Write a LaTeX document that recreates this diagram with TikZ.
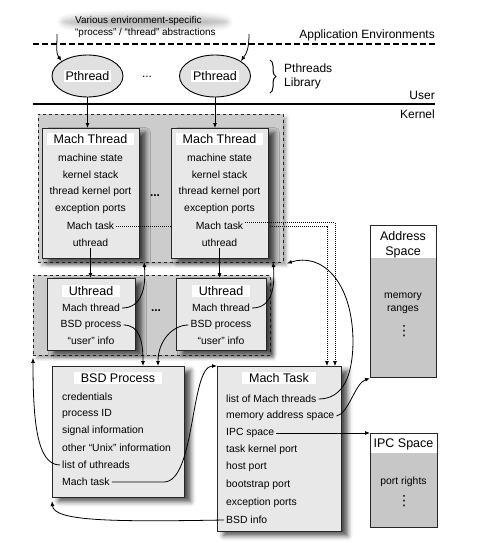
\documentclass[tikz,border=0pt]{standalone}
\usepackage{fontspec}
\setmainfont{Liberation Sans}
\newfontfamily\symfont{DejaVu Sans}
\usetikzlibrary{arrows.meta,shapes.geometric,decorations.pathreplacing,shadows.blur,calc}
\definecolor{boxfill}{gray}{0.91}
\definecolor{regfill}{gray}{0.80}
\definecolor{ellfill}{gray}{0.88}
\definecolor{spacefill}{gray}{0.78}
\newcommand\hdrfont{\fontsize{12.5}{14}\selectfont}
\newcommand\bodyfont{\fontsize{10.4}{12}\selectfont}
\newcommand\lblfont{\fontsize{12}{14}\selectfont}
\newcommand\toptextfont{\fontsize{9.9}{12}\selectfont}
\begin{document}
\begin{tikzpicture}[x=1pt,y=-1pt,
  box/.style={draw=black!85, line width=1.1pt, fill=boxfill, anchor=north west, inner sep=0pt,
    blur shadow={shadow xshift=6pt, shadow yshift=-4pt, shadow blur radius=5pt, shadow opacity=70}},
  spacebox/.style={draw=black!85, line width=1.2pt, fill=spacefill, anchor=north west, inner sep=0pt},
  region/.style={draw=black!85, dashed, line width=0.9pt, fill=regfill, anchor=north west, inner sep=0pt,
    blur shadow={shadow xshift=3pt, shadow yshift=-3pt, shadow blur radius=3pt, shadow opacity=35}},
  hdr/.style={fill=white, inner xsep=7pt, inner ysep=1.5pt, font=\hdrfont},
  txt/.style={inner xsep=2pt, inner ysep=1pt, font=\bodyfont},
  lbl/.style={inner sep=0pt, font=\lblfont},
  conn/.style={line width=0.8pt, -{Latex[length=5pt,width=4pt]}},
  dotconn/.style={line width=0.7pt, dash pattern=on 0.9pt off 1.1pt, -{Latex[length=5pt,width=4pt]}},
  dotsbold/.style={font=\bfseries\lblfont, inner sep=0pt},
  vdot/.style={font=\symfont\fontsize{14}{14}\selectfont, inner sep=0pt}
]
\useasboundingbox (0,0) rectangle (477,543);

% ---------- top ----------
\node[ellipse, minimum width=165pt, minimum height=14pt,
  blur shadow={shadow xshift=0pt, shadow yshift=0pt, shadow blur radius=6pt, shadow opacity=28}] (cloud) at (145,22) {};
\node[anchor=west, align=left, font=\toptextfont, inner sep=0pt] (toptxt) at (75,27)
  {Various environment-specific\\“process” / “thread” abstractions};
\coordinate (tl) at (57,34);
\coordinate (tr) at (249,34);
\coordinate (ae1) at (33,44);
\coordinate (ae2) at (435,44);
\draw[line width=2.6pt, dash pattern=on 5.5pt off 3.5pt] (ae1) -- (ae2);
\node[lbl, anchor=east] (appenv) at (435,35) {Application Environments};

\node[ellipse, draw, line width=0.9pt, fill=ellfill, minimum width=71pt, minimum height=42pt] (p1) at (87.5,76) {};
\node[fill=white, font=\hdrfont, inner xsep=2pt, inner ysep=1pt] (p1t) at (p1) {Pthread};
\node[ellipse, draw, line width=0.9pt, fill=ellfill, minimum width=71pt, minimum height=42pt] (p2) at (215,76) {};
\node[fill=white, font=\hdrfont, inner xsep=2pt, inner ysep=1pt] (p2t) at (p2) {Pthread};
\node[lbl] (pdots) at (147,77) {...};

\coordinate (brt) at (270,60);
\coordinate (brb) at (270,93);
\draw[decorate, decoration={brace, amplitude=6pt}, line width=1pt] (brt) -- (brb);
\node[lbl, anchor=west, align=left] (plib) at (284,76) {Pthreads\\Library};

\node[lbl, anchor=east] (user) at (435,95) {User};
\coordinate (uk1) at (33,104);
\coordinate (uk2) at (435,104);
\draw[line width=2.8pt] (uk1) -- (uk2);
\node[lbl, anchor=east] (kernel) at (435,114) {Kernel};

% ---------- regions ----------
\node[region, minimum width=245pt, minimum height=148pt] (r1) at (38,114) {};
\node[region, minimum width=237pt, minimum height=80pt] (r2) at (33,275) {};

% ---------- Mach threads ----------
\coordinate (d1) at (327,366);
\coordinate (d2) at (335,366);
\node[box, minimum width=97pt, minimum height=130pt] (mt1) at (42,128) {};
\node[hdr] (mt1h) at (90.5,139) {Mach Thread};
\node[txt] (mt1a) at (90.5,158) {machine state};
\node[txt] (mt1b) at (90.5,175) {kernel stack};
\node[txt] (mt1c) at (90.5,192) {thread kernel port};
\node[txt] (mt1d) at (90.5,209) {exception ports};
\node[txt] (mt1e) at (90.5,226) {Mach task};
\node[txt] (mt1f) at (90.5,243) {uthread};
\draw[dotconn] (mt1e.east) -| (d1);

\node[dotsbold] (mtdots) at (155,196) {...};

\node[box, minimum width=97pt, minimum height=130pt] (mt2) at (171,128) {};
\node[hdr] (mt2h) at (219.5,139) {Mach Thread};
\node[txt] (mt2a) at (219.5,158) {machine state};
\node[txt] (mt2b) at (219.5,175) {kernel stack};
\node[txt] (mt2c) at (219.5,192) {thread kernel port};
\node[txt] (mt2d) at (219.5,209) {exception ports};
\node[txt] (mt2e) at (219.5,226) {Mach task};
\node[txt] (mt2f) at (219.5,243) {uthread};
\draw[dotconn] ([yshift=3.5pt]mt2e.east) -| (d2);

% ---------- Uthreads ----------
\node[box, minimum width=88pt, minimum height=72pt] (ut1) at (47,278) {};
\node[hdr] (ut1h) at (91,291) {Uthread};
\node[txt] (ut1a) at (91,308) {Mach thread};
\node[txt] (ut1b) at (91,325) {BSD process};
\node[txt] (ut1c) at (91,341) {“user” info};

\node[dotsbold] (utdots) at (156,311) {...};

\node[box, minimum width=90pt, minimum height=72pt] (ut2) at (176,278) {};
\node[hdr] (ut2h) at (221,291) {Uthread};
\node[txt] (ut2a) at (221,308) {Mach thread};
\node[txt] (ut2b) at (221,325) {BSD process};
\node[txt] (ut2c) at (221,341) {“user” info};

% ---------- BSD Process ----------
\node[box, minimum width=132pt, minimum height=131pt] (bsd) at (52,366) {};
\node[hdr] (bsdh) at (118,378) {BSD Process};
\node[txt, anchor=west] (bsda) at (60,397) {credentials};
\node[txt, anchor=west] (bsdb) at (60,414) {process ID};
\node[txt, anchor=west] (bsdc) at (60,431) {signal information};
\node[txt, anchor=west] (bsdd) at (60,448) {other “Unix” information};
\node[txt, anchor=west] (bsde) at (60,465) {list of uthreads};
\node[txt, anchor=west] (bsdf) at (60,482) {Mach task};

% ---------- Mach Task ----------
\node[box, minimum width=124pt, minimum height=165pt] (mtask) at (217,366) {};
\node[hdr] (mtaskh) at (279,378) {Mach Task};
\node[txt, anchor=west] (mtka) at (224,399) {list of Mach threads};
\node[txt, anchor=west] (mtkb) at (224,416) {memory address space};
\node[txt, anchor=west] (mtkc) at (224,433) {IPC space};
\node[txt, anchor=west] (mtkd) at (224,450) {task kernel port};
\node[txt, anchor=west] (mtke) at (224,467) {host port};
\node[txt, anchor=west] (mtkf) at (224,485) {bootstrap port};
\node[txt, anchor=west] (mtkg) at (224,503) {exception ports};
\node[txt, anchor=west] (mtkh) at (224,520) {BSD info};

% ---------- Address Space ----------
\node[spacebox, minimum width=66pt, minimum height=152pt] (asp) at (370,225) {};
\node[fill=white, inner sep=0pt, outer sep=0pt, minimum width=64.6pt, minimum height=32pt, anchor=north] (asphd) at ([yshift=-0.6pt]asp.north) {};
\node[lbl, font=\hdrfont] (asph1) at (403,236) {Address};
\node[lbl, font=\hdrfont] (asph2) at (403,252) {Space};
\node[txt] (aspa) at (403,297) {memory};
\node[txt] (aspb) at (403,310) {ranges};
\node[vdot] (aspc) at (404,331) {⋮};

% ---------- IPC Space ----------
\node[spacebox, minimum width=67pt, minimum height=94pt] (ipc) at (370,433) {};
\node[fill=white, inner sep=0pt, outer sep=0pt, minimum width=65.6pt, minimum height=19pt, anchor=north] (ipchd) at ([yshift=-0.6pt]ipc.north) {};
\node[lbl, font=\hdrfont] (ipch) at (403.5,444) {IPC Space};
\node[txt] (ipca) at (403.5,482) {port rights};
\node[vdot] (ipcb) at (404,501) {⋮};

% ---------- connectors ----------
\draw[conn] (tl) .. controls +(0,14) and +(-6,-8) .. (p1.150);
\draw[conn] (tr) .. controls +(0,14) and +(6,-8) .. (p2.30);
\draw[conn] (p1.south) -- (p1.south |- mt1.north);
\draw[conn] (p2.south) -- (p2.south |- mt2.north);
\draw[conn] (mt1f.south) -- (mt1f.south |- ut1.north);
\draw[conn] (mt2f.south) -- (mt2f.south |- ut2.north);

\coordinate (mt1tip) at ([xshift=4pt,yshift=-3pt]mt1.south east);
\coordinate (mt2tip) at ([xshift=4pt,yshift=-3pt]mt2.south east);
\draw[conn] (ut1a.east) .. controls +(20,0) and +(2,25) .. (mt1tip);
\draw[conn] (ut2a.east) .. controls +(20,0) and +(2,25) .. (mt2tip);

\coordinate (bsdt1) at (143,366);
\coordinate (bsdt2) at (158,366);
\draw[conn] (ut1b.east) .. controls +(16,0) and +(0,-25) .. (bsdt1);
\draw[conn] (ut2b.west) .. controls +(-16,0) and +(0,-25) .. (bsdt2);

\coordinate (r1tip) at ([xshift=3pt,yshift=-0.5pt]r1.south east);
\coordinate (lmtw) at (353,340);
\draw[conn] (mtka.east) .. controls +(25,0) and +(0,35) .. (lmtw)
   .. controls +(-1,-60) and +(34,-11) .. (r1tip);
\draw[conn] (mtkb.east) .. controls +(12,-2) and +(-15,5) .. (asp.south west);
\draw[conn] (mtkc.east) -- (mtkc.east -| ipc.west);
\draw[conn] (bsdf.east) -- ++(52,0) .. controls +(32,0) and +(-27,0) .. (mtask.north west);

\coordinate (r2tip) at ([yshift=-2pt]r2.south west);
\draw[conn] (bsde.west) .. controls +(-23,0) and +(0,64) .. (r2tip);
\coordinate (bsdtip) at ([yshift=-3pt]bsd.south west);
\draw[conn] (mtkh.west) .. controls +(-114,2) and +(2,20) .. (bsdtip);
\end{tikzpicture}
\end{document}
